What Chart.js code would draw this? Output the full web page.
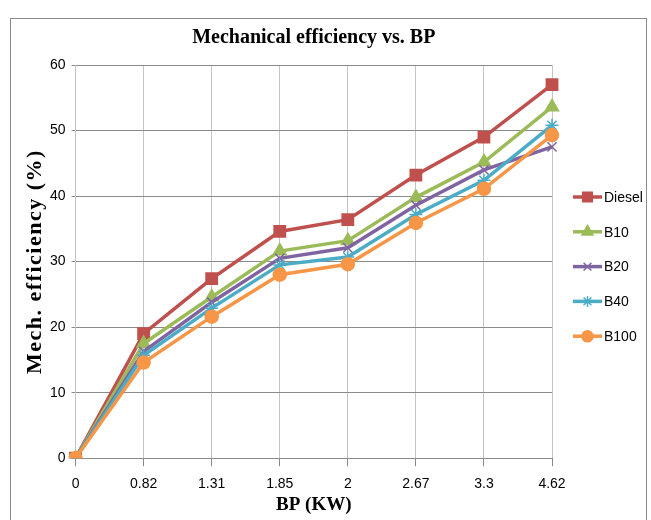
<!DOCTYPE html>
<html>
<head>
<meta charset="utf-8">
<script src="https://cdn.jsdelivr.net/npm/chart.js@4.4.0/dist/chart.umd.min.js"></script>
<style>
  html, body { margin: 0; padding: 0; background: #fff; }
  #wrap { position: relative; width: 651px; height: 520px; }
  #frame { position: absolute; left: 10px; top: 18px; width: 637px; height: 520px;
           border: 1px solid #8a8a8a; border-bottom: none; box-sizing: border-box; }
  canvas { position: absolute; left: 0; top: 0; }
</style>
</head>
<body>
<div id="wrap">
  <div id="frame"></div>
  <canvas id="chart" width="651" height="520"></canvas>
</div>
<script>
// BP (KW) values on the x axis
var bpLabels = ['0', '0.82', '1.31', '1.85', '2', '2.67', '3.3', '4.62'];

// Mechanical efficiency (%) for each fuel
var diesel = [0, 19.0, 27.4, 34.6, 36.4, 43.2, 49.0, 57.0];
var b10    = [0, 17.5, 24.6, 31.6, 33.2, 39.8, 45.2, 53.6];
var b20    = [0, 16.3, 23.8, 30.5, 32.1, 38.6, 44.0, 47.5];
var b40    = [0, 15.7, 22.9, 29.5, 30.7, 37.2, 42.4, 50.8];
var b100   = [0, 14.6, 21.6, 28.0, 29.6, 35.9, 41.1, 49.3];

var yTicks = [0, 10, 20, 30, 40, 50, 60];

var series = [
  { label: 'Diesel', data: diesel, color: '#C0504D', style: 'rect',     r: 8 },
  { label: 'B10',    data: b10,    color: '#9BBB59', style: 'triangle', r: 7.5 },
  { label: 'B20',    data: b20,    color: '#8064A2', style: 'crossRot', r: 6.5 },
  { label: 'B40',    data: b40,    color: '#4BACC6', style: 'star',     r: 6.5 },
  { label: 'B100',   data: b100,   color: '#F79646', style: 'circle',   r: 6.5 }
];

var sans = "'Liberation Sans', 'DejaVu Sans', sans-serif";
var serif = "'Liberation Serif', 'DejaVu Serif', serif";

// axis titles and the legend on the right (short line with the marker in the middle)
var extras = {
  id: 'extras',
  afterDraw: function (chart) {
    var ctx = chart.ctx;
    var area = chart.chartArea;
    ctx.save();

    ctx.fillStyle = '#000';
    ctx.textAlign = 'center';
    ctx.textBaseline = 'middle';
    ctx.font = 'bold 19px ' + serif;
    ctx.fillText('BP (KW)', (area.left + area.right) / 2, 505);

    ctx.save();
    ctx.translate(35, (area.top + area.bottom) / 2);
    ctx.rotate(-Math.PI / 2);
    ctx.font = 'bold 22px ' + serif;
    ctx.letterSpacing = '1.5px';
    ctx.fillText('Mech. efficiency (%)', 0, 0);
    ctx.restore();

    var x0 = 573, x1 = 602, top = 197, gap = 34.8;
    series.forEach(function (s, i) {
      var y = top + i * gap;
      ctx.strokeStyle = s.color;
      ctx.lineWidth = 3.5;
      ctx.beginPath();
      ctx.moveTo(x0, y);
      ctx.lineTo(x1, y);
      ctx.stroke();
      ctx.fillStyle = s.color;
      ctx.lineWidth = 1.5;
      Chart.helpers.drawPoint(ctx, { pointStyle: s.style, radius: s.r * 0.85, borderWidth: 1.5 }, (x0 + x1) / 2, y);
      ctx.fillStyle = '#000';
      ctx.font = '14px ' + sans;
      ctx.textBaseline = 'middle';
      ctx.textAlign = 'left';
      ctx.fillText(s.label, x1 + 2, y + 1);
    });
    ctx.restore();
  }
};

var ctx = document.getElementById('chart').getContext('2d');
new Chart(ctx, {
  type: 'line',
  data: {
    labels: bpLabels,
    datasets: series.map(function (s, i) {
      return {
        label: s.label,
        data: s.data,
        borderColor: s.color,
        backgroundColor: s.color,
        borderWidth: 3.5,
        pointStyle: s.style,
        pointRadius: s.r,
        pointBorderWidth: 1.5,
        pointBorderColor: s.color,
        pointBackgroundColor: s.color,
        tension: 0,
        order: series.length - i
      };
    })
  },
  options: {
    responsive: false,
    animation: false,
    layout: { padding: { left: 44, right: 99, top: 12, bottom: 17 } },
    plugins: {
      legend: { display: false },
      tooltip: { enabled: false },
      title: {
        display: true,
        text: 'Mechanical efficiency vs. BP',
        fullSize: false,
        color: '#000',
        font: { family: serif, size: 20, weight: 'bold' },
        padding: { top: 14, bottom: 15 }
      }
    },
    scales: {
      x: {
        offset: false,
        grid: { color: '#c4c4c4', lineWidth: 1, tickLength: 8, tickColor: '#8a8a8a' },
        border: { color: '#8a8a8a' },
        ticks: { color: '#000', font: { family: sans, size: 14 }, padding: 10, maxRotation: 0 }
      },
      y: {
        min: 0, max: 60,
        afterBuildTicks: function (axis) { axis.ticks = yTicks.map(function (v) { return { value: v }; }); },
        grid: { color: '#8a8a8a', lineWidth: 1, tickLength: 4, tickColor: '#8a8a8a' },
        border: { color: '#c4c4c4' },
        ticks: { color: '#000', font: { family: sans, size: 14 }, padding: 6 }
      }
    }
  },
  plugins: [extras]
});
</script>
</body>
</html>
